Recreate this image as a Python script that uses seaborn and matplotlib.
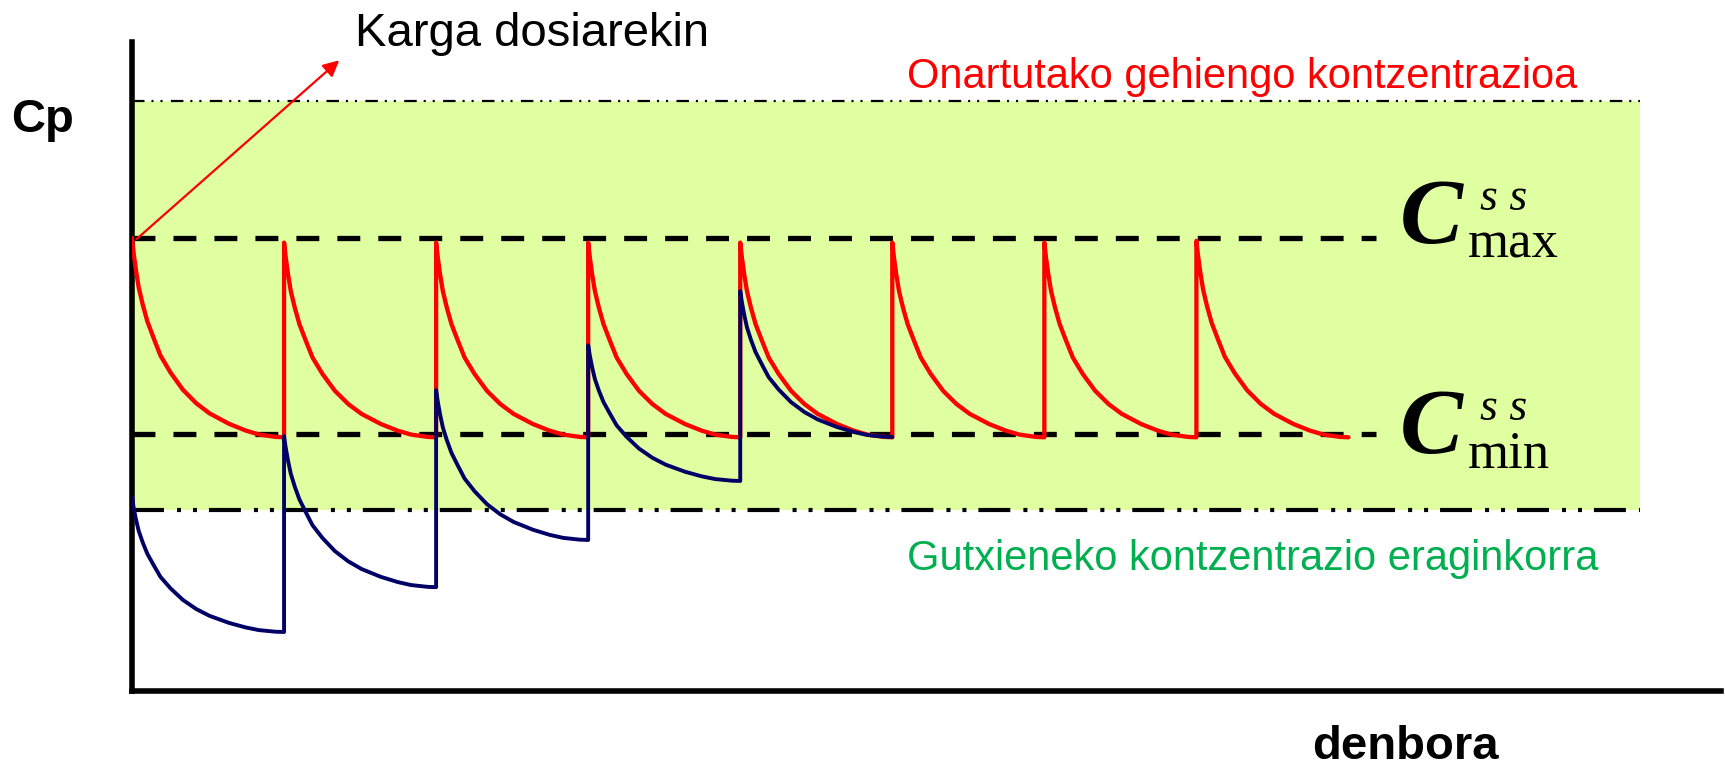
import matplotlib
matplotlib.use("Agg")
import matplotlib.pyplot as plt
import pandas as pd
import seaborn as sns

# ---------------- data ----------------
dose_times = [0, 1, 2, 3, 4, 5, 6, 7]
red_peaks = [76.8, 76.0, 76.0, 76.0, 76.0, 76.0, 76.0, 76.3]
red_troughs = [43.0, 43.0, 43.0, 43.0, 43.0, 43.0, 43.0, 43.0]
blue_peaks = [32.8, 43.2, 51.0, 58.6, 67.8]
blue_troughs = [10.0, 17.6, 25.6, 35.6, 43.05]
# decay profile within one dosing interval (fraction of interval, fraction of drop)
decay_t = [0.0, 0.011, 0.026, 0.044, 0.070, 0.101, 0.143, 0.187, 0.253,
           0.334, 0.422, 0.510, 0.637, 0.747, 0.835, 0.945, 1.0]
decay_f = [0.0, 0.077, 0.162, 0.248, 0.333, 0.419, 0.504, 0.590, 0.675,
           0.761, 0.829, 0.880, 0.932, 0.966, 0.986, 0.998, 1.0]
c_max_ss = 76.8
c_min_ss = 43.5
mtc = 100.0     # Onartutako gehiengo kontzentrazioa
mec = 30.7      # Gutxieneko kontzentrazio eraginkorra
x_end = 10.45
y_end = 110.0
ss_line_end = 8.18
band_end = 9.92
mtc_line_end = 9.92

# ---------------- build tables ----------------
rows = []
for i, (p, tr) in enumerate(zip(red_peaks, red_troughs)):
    for tt, ff in zip(decay_t, decay_f):
        rows.append({"t": dose_times[i] + tt, "c": p - (p - tr) * ff, "serie": "karga"})
for i, (p, tr) in enumerate(zip(blue_peaks, blue_troughs)):
    for tt, ff in zip(decay_t, decay_f):
        rows.append({"t": dose_times[i] + tt, "c": p - (p - tr) * ff, "serie": "gabe"})
df = pd.DataFrame(rows)

# ---------------- figure ----------------
sns.set_theme(style="white")
plt.rcParams["font.family"] = ["Liberation Sans", "DejaVu Sans"]
plt.rcParams["text.color"] = "black"
plt.rcParams["lines.scale_dashes"] = False

W, H = 1725, 766
fig = plt.figure(figsize=(W / 100, H / 100), dpi=100)
ax = fig.add_axes([132 / W, 1 - 691 / H, (1721 - 132) / W, (691 - 42) / H])
ax.set_xlim(0, x_end)
ax.set_ylim(0, y_end)

# therapeutic window band
ax.fill_between([0, band_end], mec, mtc, color="#DFFFA0", lw=0, zorder=0)

# reference lines
ax.plot([0, mtc_line_end], [mtc, mtc], color="black", lw=1.6,
        linestyle=(0, (9, 5, 1.5, 5, 1.5, 6)), zorder=1)
ax.plot([0, mtc_line_end], [mec, mec], color="black", lw=3.0,
        linestyle=(0, (23, 9.4, 2.9, 8.6, 2.9, 8.6)), zorder=1)
ax.plot([0, ss_line_end], [c_max_ss, c_max_ss], color="black", lw=3.8,
        linestyle=(0, (16.5, 13)), zorder=2)
ax.plot([0, ss_line_end], [c_min_ss, c_min_ss], color="black", lw=3.8,
        linestyle=(0, (16.5, 13)), zorder=2)

# curves
sns.lineplot(data=df[df.serie == "karga"], x="t", y="c", color="#FF0000",
             lw=3.1, sort=False, estimator=None, ax=ax, zorder=3)
sns.lineplot(data=df[df.serie == "gabe"], x="t", y="c", color="#000066",
             lw=2.8, sort=False, estimator=None, ax=ax, zorder=4)

# arrow
ax.annotate("", xy=(1.363, 106.9), xytext=(0.03, 76.6),
            arrowprops=dict(arrowstyle="-|>", color="red", lw=1.6,
                            mutation_scale=24, shrinkA=0, shrinkB=0),
            annotation_clip=False)

# axes styling
for s in ["top", "right"]:
    ax.spines[s].set_visible(False)
for s in ["left", "bottom"]:
    ax.spines[s].set_color("black")
    ax.spines[s].set_linewidth(4.0)
    ax.spines[s].set_capstyle("projecting")
ax.set_xticks([])
ax.set_yticks([])
ax.set_xlabel("")
ax.set_ylabel("")
ax.set_facecolor("none")


def fpos(x, y):
    return x / W, 1 - y / H


fig.text(*fpos(11, 132), "Cp", fontsize=34, fontweight="bold", va="baseline", ha="left")
fig.text(*fpos(1312, 759), "denbora", fontsize=34, fontweight="bold", va="baseline", ha="left")
fig.text(*fpos(355, 46), "Karga dosiarekin", fontsize=34, va="baseline", ha="left")
fig.text(*fpos(907, 88), "Onartutako gehiengo kontzentrazioa", fontsize=30,
         color="#FF0000", va="baseline", ha="left")
fig.text(*fpos(907, 570), "Gutxieneko kontzentrazio eraginkorra", fontsize=30,
         color="#00B050", va="baseline", ha="left")

serif = ["Liberation Serif", "DejaVu Serif"]
for cb, sub in [(243, "max"), (453, "min")]:
    fig.text(*fpos(1400, cb), "C", fontsize=68, family=serif, fontweight="bold",
             fontstyle="italic", va="baseline", ha="left")
    fig.text(*fpos(1480, cb - 33), "s s", fontsize=33, family=serif,
             fontstyle="italic", va="baseline", ha="left")
    fig.text(*fpos(1468, cb + 15), sub, fontsize=38, family=serif,
             va="baseline", ha="left")

fig.savefig("out.png", dpi=100)
